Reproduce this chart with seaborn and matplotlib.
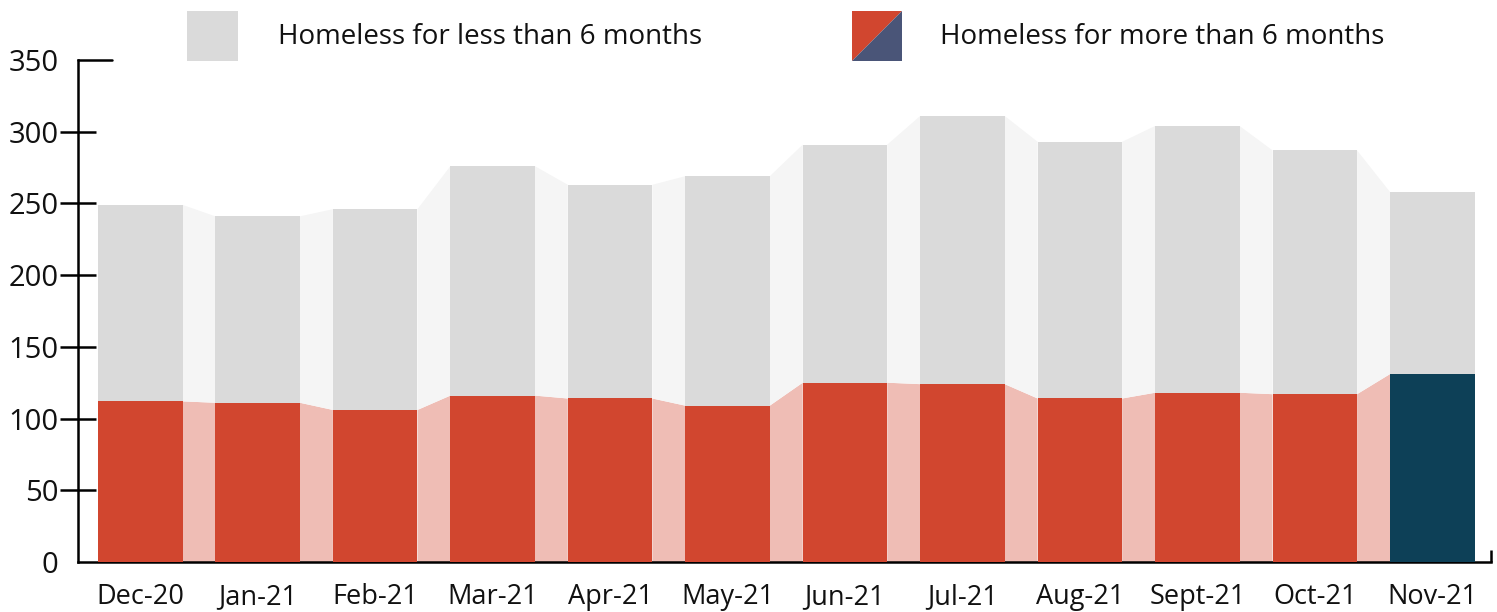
import matplotlib
matplotlib.use("Agg")
import matplotlib.pyplot as plt
import seaborn as sns
import pandas as pd
import numpy as np
from matplotlib.patches import Rectangle, Polygon
from matplotlib.transforms import blended_transform_factory

months = ["Dec-20", "Jan-21", "Feb-21", "Mar-21", "Apr-21", "May-21",
          "Jun-21", "Jul-21", "Aug-21", "Sept-21", "Oct-21", "Nov-21"]
total = [249, 241, 246, 276, 263, 269, 291, 311, 293, 304, 287, 258]
over6 = [112, 111, 106, 116, 114, 109, 125, 124, 114, 118, 117, 131]
yticks = [0, 50, 100, 150, 200, 250, 300, 350]
legend_labels = ["Homeless for less than 6 months", "Homeless for more than 6 months"]

GRAY = "#dadada"
GRAY_BAND = "#f5f5f5"
RED = "#d1462f"
RED_BAND = "#efbdb5"
NAVY = "#0d4057"
SLATE = "#4a5578"

sns.set_theme(style="white")
plt.rcParams["font.family"] = ["Open Sans", "DejaVu Sans"]

df = pd.DataFrame({"month": months, "total": total, "over6": over6})

fig = plt.figure(figsize=(14.97, 6.12), dpi=100)
W, H = 1497, 612
ax = fig.add_axes([78 / W, (H - 562) / H, (1491 - 78) / W, (562 - 60) / H])

width = 0.72
n = len(months)
# connecting bands between bars
for i in range(n - 1):
    x0 = i + width / 2
    x1 = i + 1 - width / 2
    ax.fill([x0, x1, x1, x0], [0, 0, over6[i + 1], over6[i]],
            color=RED_BAND, lw=0, zorder=1)
    ax.fill([x0, x1, x1, x0], [over6[i], over6[i + 1], total[i + 1], total[i]],
            color=GRAY_BAND, lw=0, zorder=1)

sns.barplot(data=df, x="month", y="total", hue="month",
            palette=[GRAY] * n, width=width, legend=False, ax=ax,
            saturation=1, zorder=3, linewidth=0)
sns.barplot(data=df, x="month", y="over6", hue="month",
            palette=[RED] * (n - 1) + [NAVY], width=width, legend=False,
            ax=ax, saturation=1, zorder=4, linewidth=0)

ax.set_xlim(-0.53, 11.5)
ax.set_ylim(0, 350)
ax.set_xlabel("")
ax.set_ylabel("")

for s in ["top", "right"]:
    ax.spines[s].set_visible(False)
ax.spines["left"].set_linewidth(1.8)
ax.spines["left"].set_color("black")
ax.spines["bottom"].set_linewidth(1.8)
ax.spines["bottom"].set_color("black")
ax.spines["bottom"].set_zorder(2)

ax.set_yticks(yticks)
ax.set_yticklabels([str(v) for v in yticks])
ax.tick_params(axis="y", direction="inout", length=26, width=1.8,
               color="black", labelsize=21, pad=1, left=True)
# hide tick marks for 0 and 350
ylines = ax.yaxis.get_ticklines()
for k, tl in enumerate(ylines):
    idx = k // 2
    if yticks[idx] in (0, 350):
        tl.set_visible(False)
for lab in ax.get_yticklabels():
    lab.set_color("#111111")

# top cap line at 350
trans = blended_transform_factory(ax.transAxes, ax.transData)
ax.plot([0, 34 / (1491 - 78)], [350, 350], color="black", lw=1.8,
        transform=trans, clip_on=False, zorder=5)

ax.set_xticks(range(n))
ax.set_xticklabels(months)
ax.tick_params(axis="x", length=0, labelsize=19.5, pad=15, bottom=False)
for lab in ax.get_xticklabels():
    lab.set_color("#111111")
minor = [i + 0.47 for i in range(n - 1)] + [11.5]
ax.set_xticks(minor, minor=True)
ax.tick_params(axis="x", which="minor", direction="in", length=9, width=1.8,
               color="black", bottom=True)
for tl in ax.xaxis.get_minorticklines():
    tl.set_zorder(2)

# legend
def px(x, y):
    return (x / W, 1 - y / H)

fig.add_artist(Rectangle(px(187, 61), 51 / W, 50 / H, transform=fig.transFigure,
                         color=GRAY, lw=0))
fig.text(278 / W, 1 - 37 / H, legend_labels[0], fontsize=20, va="center",
         ha="left", color="#111111")
fig.add_artist(Polygon([px(852, 11), px(902, 11), px(852, 61)],
                       closed=True, transform=fig.transFigure, color=RED, lw=0))
fig.add_artist(Polygon([px(902, 11), px(902, 61), px(852, 61)],
                       closed=True, transform=fig.transFigure, color=SLATE, lw=0))
fig.text(940 / W, 1 - 37 / H, legend_labels[1], fontsize=20, va="center",
         ha="left", color="#111111")

fig.savefig("out.png", dpi=100, facecolor="white")
